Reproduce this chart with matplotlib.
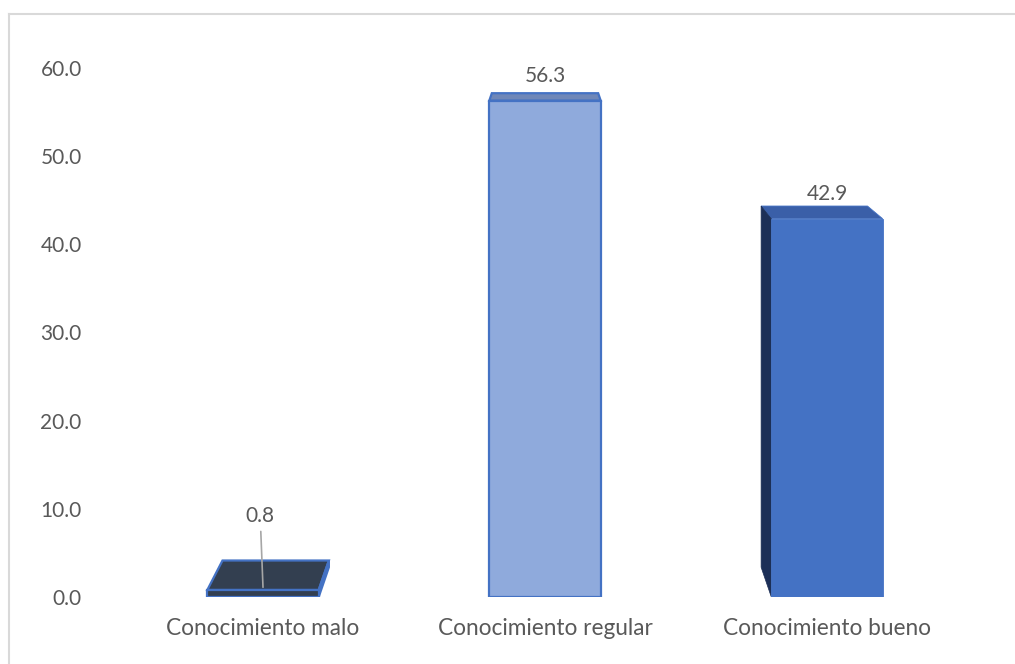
import matplotlib
matplotlib.use("Agg")
import matplotlib.pyplot as plt
from matplotlib.patches import Polygon
from matplotlib.lines import Line2D

categories = ["Conocimiento malo", "Conocimiento regular", "Conocimiento bueno"]
values = [0.8, 56.3, 42.9]
value_labels = ["0.8", "56.3", "42.9"]
yticks = [0, 10, 20, 30, 40, 50, 60]

front_colors = ["#333F50", "#8FAADC", "#4472C4"]
top_colors = ["#333F50", "#6F87B8", "#3A5FA8"]
side_colors = ["#4472C4", "#5B7BBE", "#1C2F57"]
edge_colors = ["#4472C4", "#4472C4", "#4472C4"]
edge_widths = [1.6, 1.6, 0.6]

plt.rcParams['font.family'] = ['Lato', 'DejaVu Sans']
TXT = "#595959"

fig = plt.figure(figsize=(10.15, 6.64), dpi=100)
fig.patch.set_facecolor("white")
# frame of the chart area
fig.add_artist(Line2D([9/1015, 9/1015], [0, 1 - 14/664], transform=fig.transFigure,
                      color="#D9D9D9", lw=1.5))
fig.add_artist(Line2D([9/1015, 1.0], [1 - 14/664, 1 - 14/664], transform=fig.transFigure,
                      color="#D9D9D9", lw=1.5))

left_px, right_px = 122, 968
bottom_px, top_px = 597, 68
ax = fig.add_axes([left_px/1015, (664-bottom_px)/664,
                   (right_px-left_px)/1015, (bottom_px-top_px)/664])
ax.set_xlim(-0.5, 2.5)
ax.set_ylim(0, 60)
for sp in ax.spines.values():
    sp.set_visible(False)
ax.set_yticks(yticks)
ax.set_yticklabels([f"{t:.1f}" for t in yticks], fontsize=15, color=TXT)
ax.set_xticks(range(len(categories)))
ax.set_xticklabels(categories, fontsize=16.3, color=TXT)
ax.tick_params(axis='y', length=0, pad=29)
ax.tick_params(axis='x', length=0, pad=15)

width = 0.395
s = 0.045
vp = (1.0, 75.0)

def proj(x, y):
    return (x + s*(vp[0]-x), y + s*(vp[1]-y))

for i, v in enumerate(values):
    x0, x1 = i - width/2, i + width/2
    # top face
    ftl, ftr = (x0, v), (x1, v)
    btl, btr = proj(*ftl), proj(*ftr)
    ax.add_patch(Polygon([ftl, ftr, btr, btl], closed=True, facecolor=top_colors[i],
                         edgecolor=edge_colors[i], lw=edge_widths[i], zorder=2))
    # side face
    if i < vp[0] - 0.01:
        fb, ft = (x1, 0), (x1, v)
        ax.add_patch(Polygon([fb, ft, proj(*ft), proj(*fb)], closed=True,
                             facecolor=side_colors[i], edgecolor=edge_colors[i],
                             lw=edge_widths[i], zorder=2))
    elif i > vp[0] + 0.01:
        fb, ft = (x0, 0), (x0, v)
        ax.add_patch(Polygon([fb, ft, proj(*ft), proj(*fb)], closed=True,
                             facecolor=side_colors[i], edgecolor=side_colors[i],
                             lw=0.5, zorder=2))
    ax.bar(i, v, width=width, color=front_colors[i], edgecolor=edge_colors[i],
           linewidth=edge_widths[i], zorder=3)

# data labels
for i, (v, lab) in enumerate(zip(values, value_labels)):
    if v < 5:
        ax.annotate(lab, xy=(i, v + 0.3), xytext=(i - 0.01, v + 8.4),
                    ha='center', va='center', fontsize=15, color=TXT,
                    arrowprops=dict(arrowstyle='-', color="#A6A6A6", lw=1.2,
                                    shrinkA=2, shrinkB=0), zorder=5)
    else:
        ax.text(i, v + 2.8, lab, ha='center', va='center', fontsize=15, color=TXT, zorder=5)

fig.savefig("out.png", dpi=100, facecolor="white")
